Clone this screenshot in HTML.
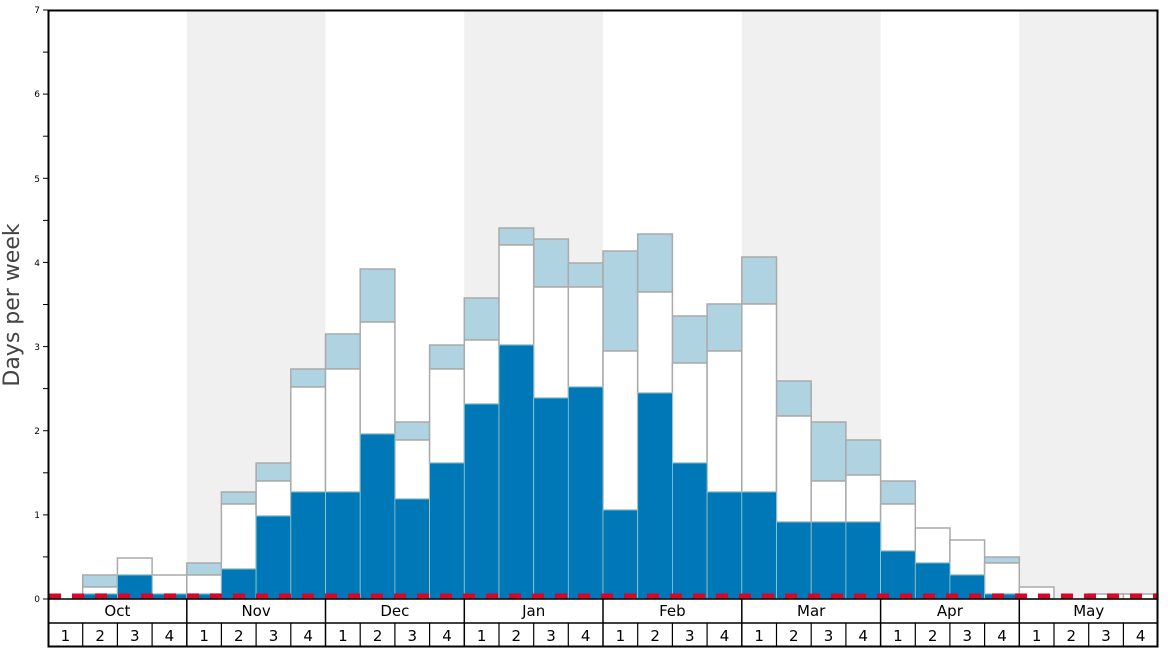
<!DOCTYPE html>
<html><head><meta charset="utf-8"><style>body{margin:0;background:#fff}svg{display:block}text{font-family:"DejaVu Sans","Liberation Sans",sans-serif}</style></head><body>
<svg width="1168" height="648" viewBox="0 0 1168 648" xmlns="http://www.w3.org/2000/svg">
<rect x="0" y="0" width="1168" height="648" fill="#fff"/>
<g fill="#f0f0f0">
<rect x="186.8" y="10" width="138.7" height="589"/>
<rect x="464.3" y="10" width="138.7" height="589"/>
<rect x="741.8" y="10" width="138.8" height="589"/>
<rect x="1019.3" y="10" width="138.7" height="589"/>
</g>
<g stroke="#aaa" stroke-width="1.5">
<!-- light blue -->
<g fill="#afd3e0">
<rect x="82.7" y="575" width="34.7" height="12"/>
<rect x="186.8" y="563" width="34.7" height="12"/>
<rect x="221.4" y="492" width="34.7" height="12"/>
<rect x="256.1" y="463" width="34.7" height="18"/>
<rect x="290.8" y="369" width="34.7" height="18"/>
<rect x="325.5" y="334" width="34.7" height="35"/>
<rect x="360.2" y="269" width="34.7" height="53"/>
<rect x="394.9" y="422" width="34.7" height="18"/>
<rect x="429.6" y="345" width="34.7" height="24"/>
<rect x="464.3" y="298" width="34.7" height="42"/>
<rect x="499.0" y="228" width="34.7" height="17"/>
<rect x="533.7" y="239" width="34.7" height="48"/>
<rect x="568.3" y="263" width="34.7" height="24"/>
<rect x="603.0" y="251" width="34.7" height="100"/>
<rect x="637.7" y="234" width="34.7" height="58"/>
<rect x="672.4" y="316" width="34.7" height="47"/>
<rect x="707.1" y="304" width="34.7" height="47"/>
<rect x="741.8" y="257" width="34.7" height="47"/>
<rect x="776.5" y="381" width="34.7" height="35"/>
<rect x="811.2" y="422" width="34.7" height="59"/>
<rect x="845.9" y="440" width="34.7" height="35"/>
<rect x="880.6" y="481" width="34.7" height="23"/>
<rect x="984.6" y="557" width="34.7" height="6"/>
</g>
<!-- white -->
<g fill="#fff">
<rect x="82.7" y="587" width="34.7" height="7"/>
<rect x="117.4" y="558" width="34.7" height="17"/>
<rect x="152.1" y="575" width="34.7" height="19"/>
<rect x="186.8" y="575" width="34.7" height="19"/>
<rect x="221.4" y="504" width="34.7" height="65"/>
<rect x="256.1" y="481" width="34.7" height="35"/>
<rect x="290.8" y="387" width="34.7" height="105"/>
<rect x="325.5" y="369" width="34.7" height="123"/>
<rect x="360.2" y="322" width="34.7" height="112"/>
<rect x="394.9" y="440" width="34.7" height="59"/>
<rect x="429.6" y="369" width="34.7" height="94"/>
<rect x="464.3" y="340" width="34.7" height="64"/>
<rect x="499.0" y="245" width="34.7" height="100"/>
<rect x="533.7" y="287" width="34.7" height="111"/>
<rect x="568.3" y="287" width="34.7" height="100"/>
<rect x="603.0" y="351" width="34.7" height="159"/>
<rect x="637.7" y="292" width="34.7" height="101"/>
<rect x="672.4" y="363" width="34.7" height="100"/>
<rect x="707.1" y="351" width="34.7" height="141"/>
<rect x="741.8" y="304" width="34.7" height="188"/>
<rect x="776.5" y="416" width="34.7" height="106"/>
<rect x="811.2" y="481" width="34.7" height="41"/>
<rect x="845.9" y="475" width="34.7" height="47"/>
<rect x="880.6" y="504" width="34.7" height="47"/>
<rect x="915.3" y="528" width="34.7" height="35"/>
<rect x="949.9" y="540" width="34.7" height="35"/>
<rect x="984.6" y="563" width="34.7" height="31"/>
<rect x="1019.3" y="587" width="34.7" height="12"/>
<rect x="1088.7" y="594" width="34.7" height="5"/>
<rect x="1123.4" y="594" width="34.6" height="5"/>
</g>
</g>
<g fill="#0077b6" stroke="#9cc" stroke-width="0.8">
<rect x="82.7" y="594" width="34.7" height="5"/>
<rect x="117.4" y="575" width="34.7" height="24"/>
<rect x="152.1" y="594" width="34.7" height="5"/>
<rect x="186.8" y="594" width="34.7" height="5"/>
<rect x="221.4" y="569" width="34.7" height="30"/>
<rect x="256.1" y="516" width="34.7" height="83"/>
<rect x="290.8" y="492" width="34.7" height="107"/>
<rect x="325.5" y="492" width="34.7" height="107"/>
<rect x="360.2" y="434" width="34.7" height="165"/>
<rect x="394.9" y="499" width="34.7" height="100"/>
<rect x="429.6" y="463" width="34.7" height="136"/>
<rect x="464.3" y="404" width="34.7" height="195"/>
<rect x="499.0" y="345" width="34.7" height="254"/>
<rect x="533.7" y="398" width="34.7" height="201"/>
<rect x="568.3" y="387" width="34.7" height="212"/>
<rect x="603.0" y="510" width="34.7" height="89"/>
<rect x="637.7" y="393" width="34.7" height="206"/>
<rect x="672.4" y="463" width="34.7" height="136"/>
<rect x="707.1" y="492" width="34.7" height="107"/>
<rect x="741.8" y="492" width="34.7" height="107"/>
<rect x="776.5" y="522" width="34.7" height="77"/>
<rect x="811.2" y="522" width="34.7" height="77"/>
<rect x="845.9" y="522" width="34.7" height="77"/>
<rect x="880.6" y="551" width="34.7" height="48"/>
<rect x="915.3" y="563" width="34.7" height="36"/>
<rect x="949.9" y="575" width="34.7" height="24"/>
<rect x="984.6" y="594" width="34.7" height="5"/>
</g>
<line x1="49" y1="596" x2="1158" y2="596" stroke="#d7062a" stroke-width="5" stroke-dasharray="12,11"/>
<!-- axes frame -->
<rect x="48.5" y="10.5" width="1109" height="636" fill="none" stroke="#000" stroke-width="2"/>
<line x1="48" y1="599" x2="1158" y2="599" stroke="#000" stroke-width="1.5"/>
<line x1="48" y1="623" x2="1158" y2="623" stroke="#000" stroke-width="1.5"/>
<g stroke="#000" stroke-width="1.5">
<line x1="186.8" y1="599" x2="186.8" y2="647"/><line x1="325.5" y1="599" x2="325.5" y2="647"/>
<line x1="464.3" y1="599" x2="464.3" y2="647"/><line x1="603" y1="599" x2="603" y2="647"/>
<line x1="741.8" y1="599" x2="741.8" y2="647"/><line x1="880.6" y1="599" x2="880.6" y2="647"/>
<line x1="1019.3" y1="599" x2="1019.3" y2="647"/>
</g>
<g stroke="#000" stroke-width="1.2">
<line x1="82.7" y1="623" x2="82.7" y2="647"/><line x1="117.4" y1="623" x2="117.4" y2="647"/><line x1="152.1" y1="623" x2="152.1" y2="647"/>
<line x1="221.4" y1="623" x2="221.4" y2="647"/><line x1="256.1" y1="623" x2="256.1" y2="647"/><line x1="290.8" y1="623" x2="290.8" y2="647"/>
<line x1="360.2" y1="623" x2="360.2" y2="647"/><line x1="394.9" y1="623" x2="394.9" y2="647"/><line x1="429.6" y1="623" x2="429.6" y2="647"/>
<line x1="499" y1="623" x2="499" y2="647"/><line x1="533.7" y1="623" x2="533.7" y2="647"/><line x1="568.3" y1="623" x2="568.3" y2="647"/>
<line x1="637.7" y1="623" x2="637.7" y2="647"/><line x1="672.4" y1="623" x2="672.4" y2="647"/><line x1="707.1" y1="623" x2="707.1" y2="647"/>
<line x1="776.5" y1="623" x2="776.5" y2="647"/><line x1="811.2" y1="623" x2="811.2" y2="647"/><line x1="845.9" y1="623" x2="845.9" y2="647"/>
<line x1="915.3" y1="623" x2="915.3" y2="647"/><line x1="949.9" y1="623" x2="949.9" y2="647"/><line x1="984.6" y1="623" x2="984.6" y2="647"/>
<line x1="1054" y1="623" x2="1054" y2="647"/><line x1="1088.7" y1="623" x2="1088.7" y2="647"/><line x1="1123.4" y1="623" x2="1123.4" y2="647"/>
</g>
<!-- y ticks -->
<g stroke="#000" stroke-width="1">
<line x1="43" y1="599" x2="48" y2="599"/><line x1="43" y1="556.9" x2="48" y2="556.9"/>
<line x1="43" y1="514.9" x2="48" y2="514.9"/><line x1="43" y1="472.8" x2="48" y2="472.8"/>
<line x1="43" y1="430.7" x2="48" y2="430.7"/><line x1="43" y1="388.6" x2="48" y2="388.6"/>
<line x1="43" y1="346.6" x2="48" y2="346.6"/><line x1="43" y1="304.5" x2="48" y2="304.5"/>
<line x1="43" y1="262.4" x2="48" y2="262.4"/><line x1="43" y1="220.4" x2="48" y2="220.4"/>
<line x1="43" y1="178.3" x2="48" y2="178.3"/><line x1="43" y1="136.2" x2="48" y2="136.2"/>
<line x1="43" y1="94.1" x2="48" y2="94.1"/><line x1="43" y1="52.1" x2="48" y2="52.1"/>
<line x1="43" y1="10" x2="48" y2="10"/>
</g>
<g font-size="9" text-anchor="end" fill="#000">
<text x="40" y="602">0</text><text x="40" y="518">1</text><text x="40" y="434">2</text><text x="40" y="350">3</text>
<text x="40" y="266">4</text><text x="40" y="182">5</text><text x="40" y="97">6</text><text x="40" y="13">7</text>
</g>
<text transform="translate(19,305) rotate(-90)" font-size="22" fill="#444" text-anchor="middle">Days per week</text>
<g font-size="15" text-anchor="middle" fill="#000">
<text x="117.4" y="616">Oct</text><text x="256.1" y="616">Nov</text><text x="394.9" y="616">Dec</text><text x="533.7" y="616">Jan</text>
<text x="672.4" y="616">Feb</text><text x="811.2" y="616">Mar</text><text x="949.9" y="616">Apr</text><text x="1088.7" y="616">May</text>
</g>
<g font-size="15" text-anchor="middle" fill="#000">
<text x="65.4" y="641">1</text><text x="100.1" y="641">2</text><text x="134.8" y="641">3</text><text x="169.4" y="641">4</text>
<text x="204.1" y="641">1</text><text x="238.8" y="641">2</text><text x="273.5" y="641">3</text><text x="308.2" y="641">4</text>
<text x="342.9" y="641">1</text><text x="377.6" y="641">2</text><text x="412.3" y="641">3</text><text x="447" y="641">4</text>
<text x="481.6" y="641">1</text><text x="516.3" y="641">2</text><text x="551" y="641">3</text><text x="585.7" y="641">4</text>
<text x="620.4" y="641">1</text><text x="655.1" y="641">2</text><text x="689.8" y="641">3</text><text x="724.5" y="641">4</text>
<text x="759.1" y="641">1</text><text x="793.8" y="641">2</text><text x="828.5" y="641">3</text><text x="863.2" y="641">4</text>
<text x="897.9" y="641">1</text><text x="932.6" y="641">2</text><text x="967.3" y="641">3</text><text x="1002" y="641">4</text>
<text x="1036.7" y="641">1</text><text x="1071.3" y="641">2</text><text x="1106" y="641">3</text><text x="1140.7" y="641">4</text>
</g>
</svg>
</body></html>
